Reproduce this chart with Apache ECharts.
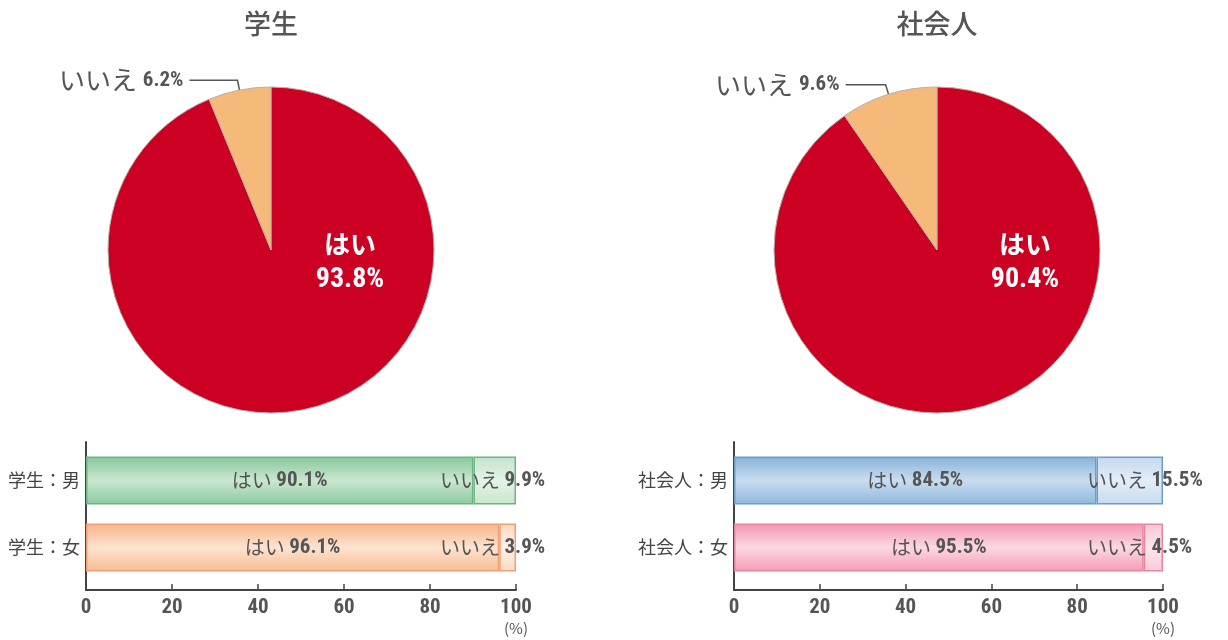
<!DOCTYPE html>
<html>
<head>
<meta charset="utf-8">
<script src="https://cdn.jsdelivr.net/npm/echarts@6/dist/echarts.min.js"></script>
<style>
  html, body { margin: 0; padding: 0; background: #fff; }
  #main { width: 1228px; height: 640px; }
</style>
</head>
<body>
<div id="main"></div>
<script>
// pie data
var pieTitles = ['学生', '社会人'];
var pieYes = [93.8, 90.4];
var pieNo = [6.2, 9.6];
var yesName = 'はい';
var noName = 'いいえ';

// bar data
var studentCats = ['学生：男', '学生：女'];
var studentYes = [90.1, 96.1];
var studentNo = [9.9, 3.9];
var workerCats = ['社会人：男', '社会人：女'];
var workerYes = [84.5, 95.5];
var workerNo = [15.5, 4.5];
var xTicks = [0, 20, 40, 60, 80, 100];
var unitLabel = '(%)';

var cjk = '"Noto Sans CJK JP", "Noto Sans", sans-serif';
var narrow = '"Liberation Sans Narrow", "Roboto Condensed", "Liberation Sans", sans-serif';
var grey = '#555';

function grad(top, mid, bottom) {
  return new echarts.graphic.LinearGradient(0, 0, 0, 1, [
    { offset: 0, color: top },
    { offset: 0.5, color: mid },
    { offset: 1, color: bottom }
  ]);
}

// colour sets per bar row
var rowStyles = [
  [
    { yes: grad('#86c69b', '#c9e8d0', '#8cc9a0'), no: grad('#c4e3cb', '#e4f3e7', '#c8e6ce'), border: '#6cb486' },
    { yes: grad('#f7b485', '#fde3d1', '#f8bb90'), no: grad('#fbd9c1', '#fef0e6', '#fcdcc6'), border: '#eea072' }
  ],
  [
    { yes: grad('#86b1d8', '#c9ddf1', '#8db6db'), no: grad('#c3d8ee', '#e3edf8', '#c7dbef'), border: '#6f9dc8' },
    { yes: grad('#f396b0', '#fcd8e2', '#f49cb4'), no: grad('#f9c6d4', '#fde6ed', '#f9cbd8'), border: '#e8849f' }
  ]
];

var pieCenters = [[271, 250], [937, 250]];
var pieLabelShift = [[79, 12], [88, 12]];
var pieLen2 = [48, 40];
var gridLefts = [86, 734];
var gridWidths = [430, 429];

var titles = pieTitles.map(function (t, i) {
  return {
    text: t,
    left: pieCenters[i][0],
    top: 10,
    padding: 0,
    textAlign: 'center',
    textStyle: { fontFamily: cjk, fontSize: 27, fontWeight: 500, color: grey }
  };
});
[0, 1].forEach(function (k) {
  titles.push({
    text: unitLabel,
    left: gridLefts[k] + gridWidths[k],
    top: 621,
    padding: 0,
    textAlign: 'center',
    textStyle: { fontFamily: cjk, fontSize: 15, fontWeight: 'normal', color: grey }
  });
});

var pies = pieTitles.map(function (t, i) {
  return {
    type: 'pie',
    center: pieCenters[i],
    radius: 163,
    startAngle: 90,
    clockwise: true,
    silent: true,
    emphasis: { disabled: true },
    animation: false,
    itemStyle: { borderColor: '#b8b0a8', borderWidth: 1 },
    labelLine: { show: true, length: 10, length2: pieLen2[i], lineStyle: { color: '#555', width: 1.5 } },
    labelLayout: function (params) {
      if (params.dataIndex === 0) {
        return { dx: pieLabelShift[i][0], dy: pieLabelShift[i][1] };
      }
      return {};
    },
    data: [
      {
        value: pieYes[i], name: yesName,
        itemStyle: { color: '#cc0022' },
        labelLine: { show: false },
        label: {
          position: 'center',
          formatter: '{a|{b}}\n{b|{c}%}',
          rich: {
            a: { fontFamily: cjk, fontWeight: 'bold', fontSize: 26, color: '#fff', lineHeight: 36 },
            b: { fontFamily: narrow, fontWeight: 'bold', fontSize: 28, color: '#fff', lineHeight: 36 }
          }
        }
      },
      {
        value: pieNo[i], name: noName,
        itemStyle: { color: '#f5b97a' },
        label: {
          position: 'outside',
          distanceToLabelLine: 6,
          formatter: '{a|{b} }{b|{c}%}',
          rich: {
            a: { fontFamily: cjk, fontSize: 26, color: grey },
            b: { fontFamily: narrow, fontWeight: 'bold', fontSize: 21, color: grey }
          }
        }
      }
    ]
  };
});

var grids = [];
var xAxes = [];
var yAxes = [];
var series = pies.slice();

[0, 1].forEach(function (k) {
  // frame grid with visible axes
  grids.push({ left: gridLefts[k], width: gridWidths[k], top: 442, height: 148 });
  // bar grid
  grids.push({ left: gridLefts[k], width: gridWidths[k], top: 447, height: 134 });

  xAxes.push({
    type: 'value', gridIndex: 2 * k, min: xTicks[0], max: xTicks[xTicks.length - 1], interval: 20,
    axisLine: { show: true, lineStyle: { color: '#444', width: 2 } },
    axisTick: { show: true, inside: true, length: 6, lineStyle: { color: '#444', width: 1.5 } },
    splitLine: { show: false },
    axisLabel: { fontFamily: narrow, fontWeight: 'bold', fontSize: 21, color: grey, margin: 7 }
  });
  xAxes.push({
    type: 'value', gridIndex: 2 * k + 1, min: 0, max: 100, show: false
  });
  yAxes.push({
    type: 'category', gridIndex: 2 * k, data: ['-'],
    axisLine: { show: true, lineStyle: { color: '#444', width: 2 } },
    axisTick: { show: false }, axisLabel: { show: false }, splitLine: { show: false }
  });
  var cats = k === 0 ? studentCats : workerCats;
  yAxes.push({
    type: 'category', gridIndex: 2 * k + 1, data: cats, inverse: true,
    axisLine: { show: false }, axisTick: { show: false },
    axisLabel: { fontFamily: cjk, fontSize: 18, color: '#444', margin: 6 }
  });

  var yes = k === 0 ? studentYes : workerYes;
  var no = k === 0 ? studentNo : workerNo;
  var st = rowStyles[k];

  series.push({
    type: 'bar', name: yesName, stack: 'b' + k, xAxisIndex: 2 * k + 1, yAxisIndex: 2 * k + 1,
    barWidth: 48, silent: true, animation: false,
    data: yes.map(function (v, r) {
      return { value: v, itemStyle: { color: st[r].yes, borderColor: st[r].border, borderWidth: 1.5 } };
    }),
    label: {
      show: true, position: 'inside',
      formatter: '{a|' + yesName + ' }{b|{c}%}',
      rich: {
        a: { fontFamily: cjk, fontSize: 20, color: grey },
        b: { fontFamily: narrow, fontWeight: 'bold', fontSize: 21, color: grey }
      }
    }
  });
  series.push({
    type: 'bar', name: noName, stack: 'b' + k, xAxisIndex: 2 * k + 1, yAxisIndex: 2 * k + 1,
    barWidth: 48, silent: true, animation: false,
    data: no.map(function (v, r) {
      return { value: v, itemStyle: { color: st[r].no, borderColor: st[r].border, borderWidth: 1.5 } };
    }),
    label: {
      show: true, position: 'right', distance: 0, offset: [-76, 0],
      formatter: '{a|' + noName + ' }{b|{c}%}',
      rich: {
        a: { fontFamily: cjk, fontSize: 20, color: grey },
        b: { fontFamily: narrow, fontWeight: 'bold', fontSize: 21, color: grey }
      }
    }
  });
});

var chart = echarts.init(document.getElementById('main'));
chart.setOption({
  backgroundColor: '#fff',
  animation: false,
  title: titles,
  grid: grids,
  xAxis: xAxes,
  yAxis: yAxes,
  series: series
});
</script>
</body>
</html>
